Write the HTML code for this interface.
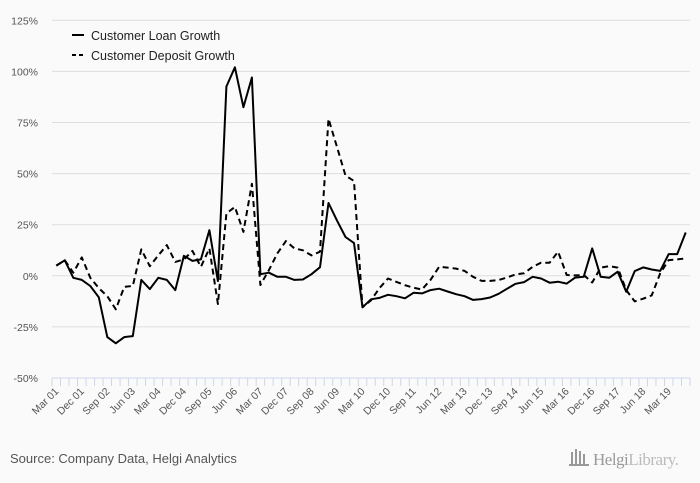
<!DOCTYPE html>
<html><head><meta charset="utf-8"><style>
body{margin:0;background:#fafafa;font-family:"Liberation Sans",sans-serif}
</style></head><body>
<svg id="c" width="700" height="483" xmlns="http://www.w3.org/2000/svg" style="display:block;background:#fafafa">
<g id="grid"></g>
<g id="yax"></g>
<g id="xax"></g>
<g id="series"></g>
<g>
<g><line x1="72" y1="35" x2="84" y2="35" stroke="#000" stroke-width="2"/><text x="91" y="40" font-size="12.5" fill="#222">Customer Loan Growth</text></g>
<g><line x1="72" y1="55" x2="84" y2="55" stroke="#000" stroke-width="2" stroke-dasharray="4,3"/><text x="91" y="60" font-size="12.5" fill="#222">Customer Deposit Growth</text></g>
</g>
<text x="10" y="463" font-size="13" fill="#555">Source: Company Data, Helgi Analytics</text>
<g>
<g fill="#999"><rect x="571" y="452" width="2" height="13"/><rect x="575" y="449" width="2" height="16"/><rect x="579" y="451" width="2" height="14"/><rect x="583" y="454" width="2" height="11"/><rect x="569" y="464" width="20" height="2"/></g>
<text x="593" y="465" font-size="17" fill="#999" font-family="Liberation Serif,serif" letter-spacing="-0.5">Helgi<tspan fill="#bbb">Library.</tspan></text>
</g>
</svg>
<script>
const categories=[];
const months=["Mar","Jun","Sep","Dec"];
for(let y=1;y<=19;y++){for(const m of months){categories.push(m+" "+String(y).padStart(2,"0"));}}
categories.length=75;
const yTicks=[125,100,75,50,25,0,-25,-50];
const loanGrowth=[5,7.6,-1,-2,-5,-10.5,-30,-33,-30,-29.5,-2,-6.5,-1,-2,-7,9.8,7.3,8,22.3,-2.6,92.6,102,82.5,97,0.8,1.5,-0.5,-0.5,-2,-1.8,0.8,4.2,35.6,27,19,16,-15.4,-11.5,-10.8,-9.3,-10,-11,-8.3,-8.6,-7,-6.3,-7.7,-9,-10,-11.8,-11.4,-10.6,-8.8,-6.3,-3.9,-3.1,-0.5,-1.3,-3.4,-2.9,-3.8,-0.9,-0.5,13.4,-0.5,-1,2,-7.8,2.3,4.1,3.1,2.4,10.6,10.6,21.2];
const depositGrowth=[5,7.6,1.5,9,-1,-6,-10,-16.4,-5.4,-5,12.9,4.7,10,15,6.8,8,12.2,4.4,13.4,-13.8,30.5,33.7,21.5,45,-4.5,2.8,11,17,13.4,12.5,10,11.8,76.8,63,49,46.4,-15.4,-12,-6,-1.3,-3,-4.6,-5.8,-6.7,-2,4.4,4,3.5,2.4,-0.5,-2.5,-2.5,-2.1,-0.8,0.7,1.2,4.4,6.4,6.4,11.8,0.4,0.2,0.4,-3.3,4,4.7,4,-7,-12.5,-11.2,-9.6,1.2,7.7,8,8.5];
const NS="http://www.w3.org/2000/svg";
const X0=52,X1=690,Y0=20.3,Y1=378;
const n=categories.length;
const band=(X1-X0)/n;
const xs=i=>X0+band*(i+0.5);
const ys=v=>Y1-(v+50)/175*(Y1-Y0);
function el(t,a,p){const e=document.createElementNS(NS,t);for(const k in a)e.setAttribute(k,a[k]);p.appendChild(e);return e;}
const grid=document.getElementById('grid'),yax=document.getElementById('yax'),xax=document.getElementById('xax'),ser=document.getElementById('series');
yTicks.forEach(v=>{
 if(v!==-50){const g=el('line',{x1:X0,x2:X1,y1:ys(v),y2:ys(v),stroke:'#dedede','stroke-width':1},grid);
 
 }
 const t=el('text',{x:38,y:ys(v)+4,'text-anchor':'end','font-size':10.5,fill:'#555'},yax);
 
 
 t.textContent=v+'%';
});
const ax=el('line',{x1:X0,x2:X1,y1:Y1,y2:Y1,stroke:'#ccd6eb','stroke-width':1},xax);


for(let i=0;i<=n;i++){const tk=el('line',{x1:X0+band*i,x2:X0+band*i,y1:Y1,y2:Y1+8,stroke:'#ccd6eb','stroke-width':1},xax);
 
 }
categories.forEach((c,i)=>{if(i%3!==0)return;
 const x=xs(i)+3,y=Y1+14;
 const t=el('text',{x:x,y:y,'text-anchor':'end','font-size':10.5,fill:'#555',transform:`rotate(-45 ${x} ${y})`},xax);
 
 
 t.textContent=c;});
function line(data,dash,name){
 const d=data.map((v,i)=>(i?'L':'M')+xs(i).toFixed(1)+','+ys(v).toFixed(1)).join('');
 const p=el('path',{d:d,fill:'none',stroke:'#000','stroke-width':2,'stroke-linejoin':'round'},ser);
 if(dash)p.setAttribute('stroke-dasharray','6,4');
 
 
}
line(depositGrowth,true,'deposit-growth-line');
line(loanGrowth,false,'loan-growth-line');
</script>
</body></html>
